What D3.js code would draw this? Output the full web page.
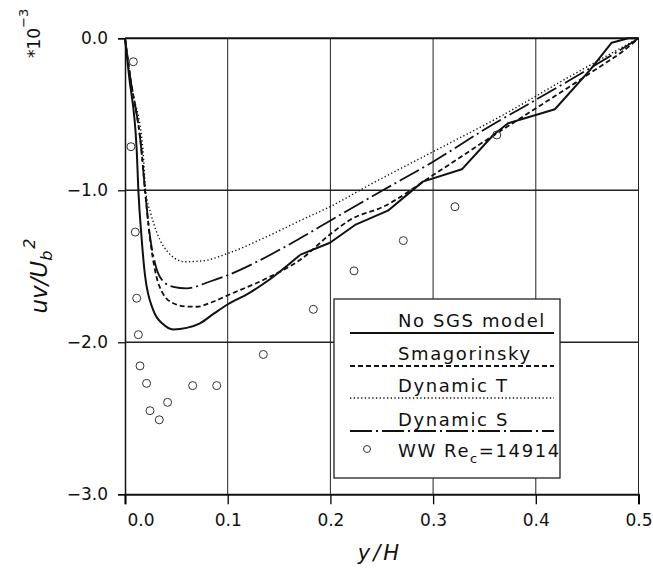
<!DOCTYPE html>
<html><head><meta charset="utf-8">
<script src="https://cdn.jsdelivr.net/npm/d3@7/dist/d3.min.js"></script>
<style>body{margin:0;background:#fff}svg{display:block}text{font-family:"DejaVu Sans",sans-serif;fill:#111}</style>
</head><body>
<svg id="c" width="653" height="571"></svg>
<script>
const xTicks = [0, 0.1, 0.2, 0.3, 0.4, 0.5];
const yTicks = [0, -1, -2, -3];
const xGrid = [0.1, 0.2, 0.3, 0.4];
const yGrid = [-1, -2];

const noSgsX = [0, 0.004, 0.0114, 0.013, 0.016, 0.0195, 0.0276, 0.037, 0.047, 0.06, 0.073, 0.0868, 0.1006, 0.12, 0.138, 0.1704, 0.1996, 0.224, 0.256, 0.29, 0.328, 0.3586, 0.373, 0.4186, 0.4527, 0.4739, 0.49, 0.5];
const noSgsY = [0, -0.25, -0.736, -1.0, -1.3, -1.56, -1.79, -1.88, -1.915, -1.905, -1.875, -1.81, -1.748, -1.68, -1.60, -1.425, -1.345, -1.228, -1.134, -0.943, -0.862, -0.636, -0.559, -0.467, -0.209, -0.029, 0, 0];

const smagX = [0, 0.005, 0.016, 0.0195, 0.024, 0.03, 0.037, 0.047, 0.06, 0.0698, 0.085, 0.1006, 0.138, 0.1704, 0.201, 0.219, 0.2515, 0.3, 0.352, 0.4025, 0.4527, 0.495, 0.5];
const smagY = [0, -0.25, -0.736, -1.0, -1.3, -1.55, -1.68, -1.743, -1.765, -1.766, -1.735, -1.689, -1.579, -1.458, -1.283, -1.195, -1.108, -0.90, -0.669, -0.45, -0.23, -0.03, 0];

const dynTX = [0, 0.006, 0.0175, 0.02, 0.025, 0.03, 0.0453, 0.058, 0.075, 0.1006, 0.138, 0.1704, 0.2028, 0.235, 0.3, 0.365, 0.43, 0.5];
const dynTY = [0, -0.3, -0.736, -1.0, -1.15, -1.26, -1.43, -1.47, -1.465, -1.414, -1.305, -1.2, -1.097, -0.976, -0.746, -0.516, -0.263, 0];

const dynSX = [0, 0.005, 0.016, 0.0195, 0.0243, 0.03, 0.0373, 0.047, 0.06, 0.0828, 0.1006, 0.138, 0.1704, 0.201, 0.2515, 0.3, 0.352, 0.4025, 0.4527, 0.495, 0.5];
const dynSY = [0, -0.25, -0.736, -1.0, -1.30, -1.50, -1.60, -1.635, -1.645, -1.60, -1.557, -1.437, -1.316, -1.195, -0.998, -0.812, -0.592, -0.395, -0.197, -0.022, 0];

const wwX = [0.0081, 0.0058, 0.0100, 0.0114, 0.013, 0.0146, 0.021, 0.0243, 0.0334, 0.0415, 0.0659, 0.0893, 0.1347, 0.1834, 0.223, 0.271, 0.3213, 0.362];
const wwY = [-0.154, -0.713, -1.275, -1.71, -1.95, -2.155, -2.27, -2.45, -2.51, -2.395, -2.285, -2.285, -2.08, -1.783, -1.53, -1.331, -1.108, -0.636];

const legendLabels = ["No SGS model", "Smagorinsky", "Dynamic T", "Dynamic S"];

const svg = d3.select("#c");
svg.append("rect").attr("width", 653).attr("height", 571).attr("fill", "#fff");

const x = d3.scaleLinear().domain([0, 0.5]).range([125, 638.5]);
const y = d3.scaleLinear().domain([-3, 0]).range([494.3, 38.3]);

// grid
svg.append("g").selectAll("line").data(xGrid).join("line")
  .attr("x1", d => x(d)).attr("x2", d => x(d)).attr("y1", y(0)).attr("y2", y(-3))
  .attr("stroke", "#222").attr("stroke-width", 1);
svg.append("g").selectAll("line").data(yGrid).join("line")
  .attr("x1", x(0)).attr("x2", x(0.5)).attr("y1", d => y(d)).attr("y2", d => y(d))
  .attr("stroke", "#222").attr("stroke-width", 1.6);

// frame
svg.append("line").attr("x1", x(0)).attr("x2", x(0.5)).attr("y1", y(0)).attr("y2", y(0)).attr("stroke", "#111").attr("stroke-width", 2);
svg.append("line").attr("x1", x(0.5)).attr("x2", x(0.5)).attr("y1", y(0)).attr("y2", y(-3)).attr("stroke", "#222").attr("stroke-width", 1);

// axes
const xAxis = svg.append("g").attr("transform", `translate(0,${y(-3)})`)
  .call(d3.axisBottom(x).tickValues(xTicks).tickSize(10).tickPadding(10).tickFormat(d3.format(".1f")));
xAxis.select(".domain").attr("stroke-width", 2).attr("stroke", "#111");
xAxis.selectAll(".tick line").attr("stroke-width", 1.3);
xAxis.selectAll("text").attr("font-size", 17).attr("font-family", "DejaVu Sans").attr("fill", "#111");
xAxis.selectAll(".tick text").filter(d => d === 0).attr("text-anchor", "start").attr("dx", 2);

const yAxis = svg.append("g").attr("transform", `translate(${x(0)},0)`)
  .call(d3.axisLeft(y).tickValues(yTicks).tickSize(7).tickPadding(10).tickFormat(d3.format(".1f")));
yAxis.select(".domain").attr("stroke-width", 1.5).attr("stroke", "#111");
yAxis.selectAll(".tick line").attr("stroke-width", 1.2);
yAxis.selectAll("text").attr("font-size", 17).attr("font-family", "DejaVu Sans").attr("fill", "#111");

// lines
const smooth = d3.line().x(d => x(d[0])).y(d => y(d[1])).curve(d3.curveMonotoneX);
const straight = d3.line().x(d => x(d[0])).y(d => y(d[1])).curve(d3.curveLinear);
const series = [
  {xs: noSgsX, ys: noSgsY, dash: null, w: 2, split: 0.1704},
  {xs: smagX, ys: smagY, dash: "5,3", w: 1.8},
  {xs: dynTX, ys: dynTY, dash: "1.3,2.4", w: 1.4},
  {xs: dynSX, ys: dynSY, dash: "22,4,2,4", w: 1.8}
];
series.forEach(s => {
  const pts = s.xs.map((v, i) => [v, s.ys[i]]);
  const addPath = (data, gen) => svg.append("path").datum(data)
    .attr("d", gen).attr("fill", "none").attr("stroke", "#111")
    .attr("stroke-width", s.w).attr("stroke-dasharray", s.dash).attr("stroke-linejoin", "round");
  if (s.split !== undefined) {
    addPath(pts.filter(p => p[0] <= s.split), smooth);
    addPath(pts.filter(p => p[0] >= s.split), straight);
  } else {
    addPath(pts, smooth);
  }
});

// WW points
svg.append("g").selectAll("circle").data(wwX.map((v, i) => [v, wwY[i]])).join("circle")
  .attr("cx", d => x(d[0])).attr("cy", d => y(d[1])).attr("r", 4)
  .attr("fill", "none").attr("stroke", "#333").attr("stroke-width", 1);

// legend
const lg = svg.append("g");
lg.append("rect").attr("x", 334).attr("y", 299).attr("width", 226).attr("height", 179)
  .attr("fill", "#fff").attr("stroke", "#222").attr("stroke-width", 1.3);
const rowBase = [327, 360, 392, 426];
const rowLine = [333, 366, 398, 431];
legendLabels.forEach((lab, i) => {
  lg.append("text").attr("x", 398).attr("y", rowBase[i]).attr("font-size", 18)
    .attr("letter-spacing", 1.6).text(lab);
  lg.append("line").attr("x1", 350).attr("x2", 554).attr("y1", rowLine[i]).attr("y2", rowLine[i])
    .attr("stroke", "#111").attr("stroke-width", series[i].w).attr("stroke-dasharray", series[i].dash);
});
lg.append("circle").attr("cx", 367).attr("cy", 449).attr("r", 3.5).attr("fill", "none").attr("stroke", "#333").attr("stroke-width", 1);
const wwT = lg.append("text").attr("x", 398).attr("y", 457).attr("font-size", 18).attr("letter-spacing", 1.6);
wwT.append("tspan").text("WW Re");
wwT.append("tspan").attr("font-size", 13).attr("dy", 6).text("c");
wwT.append("tspan").attr("dy", -6).text("=14914");

// axis titles
svg.append("text").attr("x", 380).attr("y", 560).attr("text-anchor", "middle")
  .attr("font-size", 21).attr("font-style", "italic").attr("letter-spacing", 3).text("y/H");

const yl = svg.append("text").attr("transform", "translate(47,276) rotate(-90)")
  .attr("text-anchor", "middle").attr("font-size", 23).attr("font-style", "italic");
yl.append("tspan").text("uv/U");
yl.append("tspan").attr("font-size", 16).attr("dy", 5).text("b");
yl.append("tspan").attr("font-size", 16).attr("dy", -17).attr("dx", 2).text("2");

const sc = svg.append("text").attr("transform", "translate(40,58) rotate(-90)")
  .attr("font-size", 17);
sc.append("tspan").text("*10");
sc.append("tspan").attr("font-size", 13).attr("dy", -12).text("−3");
</script>
</body></html>
